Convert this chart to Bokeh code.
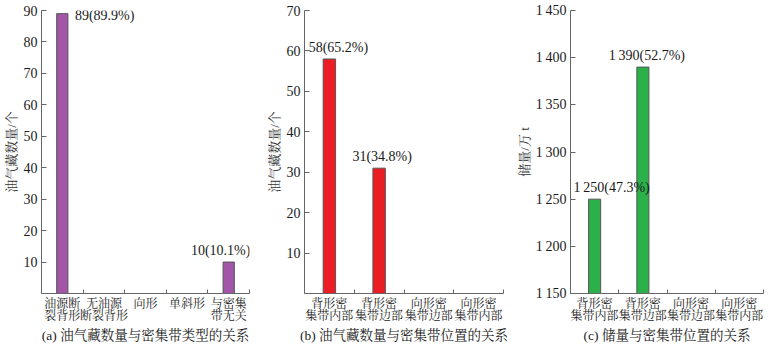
from bokeh.plotting import figure
from bokeh.models import Range1d, FixedTicker, ColumnDataSource, Label
from bokeh.layouts import row
from bokeh.embed import file_html
from bokeh.resources import INLINE

# ---- data ----
cats_a = ["油源断\n裂背形", "无油源\n断裂背形", "向形", "单斜形", "与密集\n带无关"]
counts_a = [89, 0, 0, 0, 10]
pct_a = [89.9, None, None, None, 10.1]

cats_b = ["背形密\n集带内部", "背形密\n集带边部", "向形密\n集带边部", "向形密\n集带内部"]
counts_b = [58, 31, 0, 0]
pct_b = [65.2, 34.8, None, None]

cats_c = ["背形密\n集带内部", "背形密\n集带边部", "向形密\n集带边部", "向形密\n集带内部"]
reserves_c = [1250, 1390, None, None]
pct_c = [47.3, 52.7, None, None]

yticks_a = [10, 20, 30, 40, 50, 60, 70, 80, 90]
yticks_b = [10, 20, 30, 40, 50, 60, 70]
yticks_c = [1150, 1200, 1250, 1300, 1350, 1400, 1450]

FONT = "'Liberation Serif', 'Noto Serif CJK SC', 'Noto Sans CJK SC'"
AX = "#666666"
TXT = "#1a1a1a"
H = 350


def fmt_num(v):
    s = f"{v:d}"
    if len(s) > 3:
        s = s[:-3] + "\u2009" + s[-3:]
    return s


def center_lines(label):
    lines = label.split("\n")
    w = max(len(l) for l in lines)
    out = []
    for l in lines:
        pad = w - len(l)
        out.append("\u2002" * pad + l + "\u2002" * pad if pad else l)
    return "\n".join(out)


def make(cats, vals, pcts, yticks, ystart, yend, color, bar_w, ylabel, caption,
         width, left, right, ylab_standoff, label_style):
    n = len(cats)
    p = figure(width=width, height=H, output_backend="svg", toolbar_location=None,
               x_range=Range1d(-0.5, n - 0.5), y_range=Range1d(ystart, yend),
               min_border_left=left, min_border_right=right,
               min_border_top=10, min_border_bottom=57)
    p.outline_line_color = None
    p.grid.grid_line_color = None
    p.background_fill_color = "white"
    p.border_fill_color = "white"

    xs = [i for i, v in enumerate(vals) if v]
    src = ColumnDataSource(dict(x=xs, top=[vals[i] for i in xs]))
    p.vbar(x="x", top="top", bottom=ystart, width=bar_w, source=src,
           fill_color=color, line_color="#555555", line_width=1)

    for k, i in enumerate(xs):
        align, dx, dy, base = label_style[k]
        p.add_layout(Label(x=i + (bar_w / 2 if align == "left" else 0), y=vals[i],
                           text=f"{fmt_num(vals[i])}({pcts[i]}%)",
                           text_align=align, text_baseline=base,
                           x_offset=dx, y_offset=dy, text_font_size="14px",
                           text_color=TXT, text_font=FONT))

    xa = p.xaxis[0]
    xa.ticker = FixedTicker(ticks=list(range(n)),
                            minor_ticks=[i - 0.5 for i in range(n + 1)])
    xa.major_label_overrides = {i: center_lines(c) for i, c in enumerate(cats)}
    xa.major_tick_in = 0
    xa.major_tick_out = 0
    xa.minor_tick_in = 4
    xa.minor_tick_out = 0
    xa.minor_tick_line_color = AX
    xa.axis_line_color = AX
    xa.major_label_text_font = FONT
    xa.major_label_text_font_size = "12px"
    xa.major_label_text_color = TXT
    xa.major_label_text_line_height = 0.92
    xa.major_label_standoff = 3
    xa.axis_label = caption
    xa.axis_label_text_font = FONT
    xa.axis_label_text_font_size = "13.5px"
    xa.axis_label_text_font_style = "normal"
    xa.axis_label_text_color = TXT
    xa.axis_label_standoff = 2

    ya = p.yaxis[0]
    ya.ticker = FixedTicker(ticks=yticks)
    ya.major_label_overrides = {t: fmt_num(t) for t in yticks}
    ya.major_tick_in = 5
    ya.major_tick_out = 0
    ya.minor_tick_line_color = None
    ya.axis_line_color = AX
    ya.major_tick_line_color = AX
    ya.major_label_text_font = FONT
    ya.major_label_text_font_size = "14px"
    ya.major_label_text_color = TXT
    ya.major_label_standoff = 4
    ya.axis_label = ylabel
    ya.axis_label_text_font = FONT
    ya.axis_label_text_font_size = "13px"
    ya.axis_label_text_font_style = "normal"
    ya.axis_label_text_color = "#333333"
    ya.axis_label_standoff = ylab_standoff
    return p


pa = make(cats_a, counts_a, pct_a, yticks_a, 0, 90, "#A356A7", 0.27,
          "油气藏数量/个", "(a) 油气藏数量与密集带类型的关系", 258, 40, 9, 2,
          [("left", 7, -2, "middle"), ("center", -8, 4, "bottom")])
pb = make(cats_b, counts_b, pct_b, yticks_b, 0, 70, "#EC1C24", 0.25,
          "油气藏数量/个", "(b) 油气藏数量与密集带位置的关系", 255, 46, 10, 2,
          [("center", 9, 4, "bottom"), ("center", 3, 4, "bottom")])
pc = make(cats_c, reserves_c, pct_c, yticks_c, 1150, 1450, "#2BB04A", 0.25,
          "储量/万 t", "(c) 储量与密集带位置的关系", 253, 55, 3, 1,
          [("center", 17, 4, "bottom"), ("center", 4, 4, "bottom")])

layout = row(pa, pb, pc)
open("out.html", "w").write(file_html(layout, INLINE))
